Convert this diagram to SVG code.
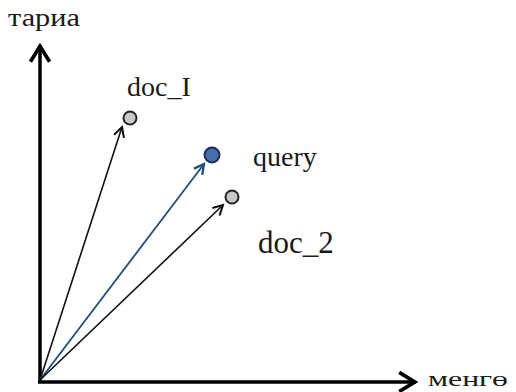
<svg xmlns="http://www.w3.org/2000/svg" width="516" height="392" viewBox="0 0 516 392">
<style>
.lbl{font-family:"Liberation Serif","DejaVu Serif",serif;fill:#1a1a1a}
.axis{stroke:#000;stroke-width:3.5;fill:none}
.vec{stroke:#111;stroke-width:1.6;fill:none}
.vecq{stroke:#1f4e79;stroke-width:1.8;fill:none}
</style>
<defs>
<marker id="ah" viewBox="0 0 10 10" refX="8.5" refY="5" markerWidth="13" markerHeight="13" markerUnits="userSpaceOnUse" orient="auto">
<polyline points="1,1 8.5,5 1,9" fill="none" stroke="#111" stroke-width="1.6"/>
</marker>
<marker id="ahq" viewBox="0 0 10 10" refX="8.5" refY="5" markerWidth="13" markerHeight="13" markerUnits="userSpaceOnUse" orient="auto">
<polyline points="1,1 8.5,5 1,9" fill="none" stroke="#1f4e79" stroke-width="1.8"/>
</marker>
<marker id="axh" viewBox="0 0 10 10" refX="9" refY="5" markerWidth="24" markerHeight="24" markerUnits="userSpaceOnUse" orient="auto">
<polyline points="2,1 8.5,5 2,9" fill="none" stroke="#000" stroke-width="1.5"/>
</marker>
</defs>
<g id="connectors">
<line class="axis" x1="40" y1="383" x2="40" y2="45" marker-end="url(#axh)"/>
<line class="axis" x1="38" y1="382" x2="416" y2="382" marker-end="url(#axh)"/>
<line class="vec" x1="40" y1="380" x2="122" y2="127" marker-end="url(#ah)"/>
<line class="vecq" x1="40" y1="380" x2="204" y2="164" marker-end="url(#ahq)"/>
<line class="vec" x1="40" y1="380" x2="223" y2="205" marker-end="url(#ah)"/>
</g>
<g id="axis-y"><text class="lbl" x="8" y="26" font-size="26" textLength="72" lengthAdjust="spacingAndGlyphs">тариа</text></g>
<g id="axis-x"><text class="lbl" x="428" y="386" font-size="20" textLength="80" lengthAdjust="spacingAndGlyphs">менгө</text></g>
<g id="doc1">
<circle cx="130" cy="118" r="6.5" fill="#c8c8c8" stroke="#222" stroke-width="2"/>
<text class="lbl" x="127" y="96" font-size="28">doc_I</text>
</g>
<g id="query">
<circle cx="212" cy="155" r="7.5" fill="#4a6aae" stroke="#1c2f5a" stroke-width="2"/>
<text class="lbl" x="253" y="166" font-size="28">query</text>
</g>
<g id="doc2">
<circle cx="232" cy="197" r="6.5" fill="#c8c8c8" stroke="#222" stroke-width="2"/>
<text class="lbl" x="258" y="253" font-size="31">doc_2</text>
</g>
</svg>
